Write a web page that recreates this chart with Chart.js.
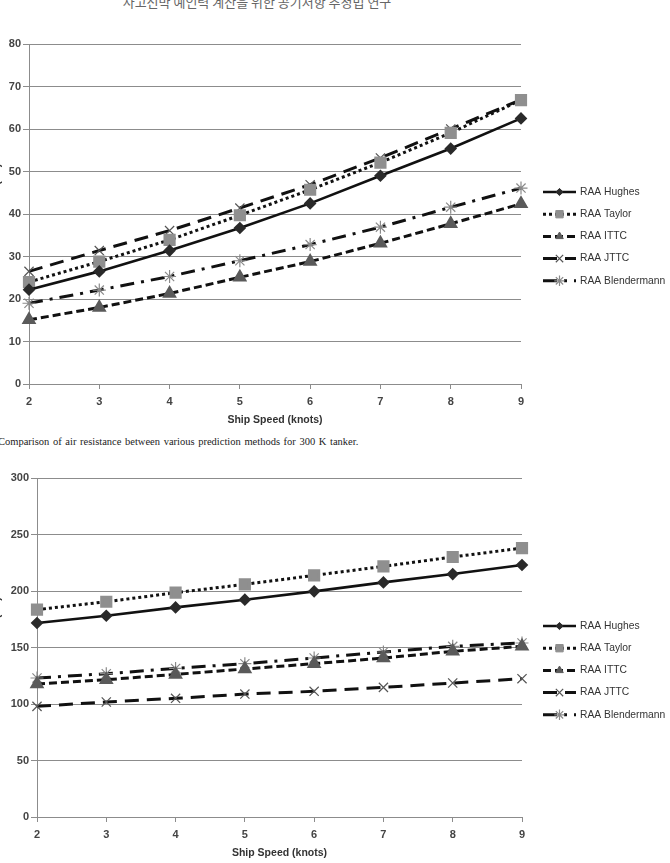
<!DOCTYPE html>
<html>
<head>
<meta charset="utf-8">
<script src="https://cdn.jsdelivr.net/npm/chart.js@4/dist/chart.umd.min.js"></script>
<style>
  body { margin: 0; background: #fff; width: 670px; height: 863px; overflow: hidden; position: relative; }
  .head { position: absolute; top: -8px; left: 0; width: 514px; text-align: center; font: 13px "Noto Sans CJK KR"; color: #666; }
  .caption { position: absolute; top: 436px; left: -2px; font: 10.5px "Liberation Serif"; color: #222; word-spacing: 1px; }
  .box { position: absolute; left: -14px; }
</style>
</head>
<body>
<div class="head">사고선박 예인력 계산을 위한 공기저항 추정법 연구</div>
<div class="box" style="top:30px;width:684px;height:400px"><canvas id="c1"></canvas></div>
<div class="caption">Comparison of air resistance between various prediction methods for 300 K tanker.</div>
<div class="box" style="top:460px;width:684px;height:403px"><canvas id="c2"></canvas></div>
<script>
const speeds = ['2', '3', '4', '5', '6', '7', '8', '9'];
const seriesNames = ['RAA Hughes', 'RAA Taylor', 'RAA ITTC', 'RAA JTTC', 'RAA Blendermann'];

// chart 1
const hughes1 = [22.2, 26.5, 31.4, 36.7, 42.5, 49.0, 55.4, 62.5];
const taylor1 = [24.0, 28.8, 33.9, 39.7, 45.7, 52.1, 59.1, 66.8];
const ittc1 = [15.1, 18.0, 21.3, 25.1, 28.8, 33.1, 37.7, 42.4];
const jttc1 = [26.5, 31.4, 36.1, 41.4, 46.9, 53.2, 60.0, 66.9];
const blend1 = [19.0, 22.1, 25.3, 29.0, 32.8, 36.9, 41.6, 46.1];

// chart 2
const hughes2 = [171.7, 178.1, 185.5, 192.3, 199.7, 207.6, 215.0, 223.0];
const taylor2 = [183.5, 190.5, 198.5, 205.9, 213.8, 221.8, 230.1, 238.0];
const ittc2 = [117.7, 121.5, 126.2, 131.0, 135.7, 140.7, 146.6, 151.0];
const jttc2 = [97.9, 101.8, 105.0, 108.8, 111.2, 114.7, 118.6, 122.4];
const blend2 = [123.0, 126.8, 131.5, 135.7, 140.7, 146.0, 151.0, 154.0];

const styles = [
  { borderDash: [], borderWidth: 2.6, pointStyle: 'rectRot', pointRadius: 4.5, pointBackgroundColor: '#2a2a2a', pointBorderColor: '#2a2a2a' },
  { borderDash: [3, 3], borderWidth: 3, pointStyle: 'rect', pointRadius: 6.5, pointBackgroundColor: '#8f8f8f', pointBorderColor: '#8f8f8f' },
  { borderDash: [8, 4], borderWidth: 3, pointStyle: 'triangle', pointRadius: 5.5, pointBackgroundColor: '#5a5a5a', pointBorderColor: '#5a5a5a' },
  { borderDash: [14, 8], borderWidth: 3, pointStyle: 'crossRot', pointRadius: 6.5, pointBackgroundColor: '#555', pointBorderColor: '#555', pointBorderWidth: 1.2 },
  { borderDash: [14, 7, 3, 7], borderWidth: 3, pointStyle: 'star', pointRadius: 6.5, pointBackgroundColor: '#8a8a8a', pointBorderColor: '#8a8a8a', pointBorderWidth: 1.2 }
];

// Excel-like legend: line sample with marker in the middle
const sideLegend = {
  id: 'sideLegend',
  afterDraw(chart, args, opts) {
    const ctx = chart.ctx;
    chart.data.datasets.forEach((ds, i) => {
      const y = opts.y + i * opts.gap;
      const x0 = opts.x;
      ctx.save();
      ctx.strokeStyle = '#111';
      ctx.lineWidth = ds.borderWidth;
      ctx.setLineDash(ds.borderDash);
      ctx.beginPath();
      ctx.moveTo(x0, y);
      ctx.lineTo(x0 + 33, y);
      ctx.stroke();
      ctx.setLineDash([]);
      ctx.fillStyle = ds.pointBackgroundColor;
      ctx.strokeStyle = ds.pointBorderColor;
      ctx.lineWidth = ds.pointBorderWidth || 1;
      Chart.helpers.drawPoint(ctx, { pointStyle: ds.pointStyle, radius: ds.pointRadius * 0.8, rotation: 0, borderWidth: ds.pointBorderWidth || 1 }, x0 + 16.5, y);
      ctx.fillStyle = '#333';
      ctx.font = '10.3px "Liberation Sans"';
      ctx.textBaseline = 'middle';
      ctx.fillText(ds.label, x0 + 37, y);
      ctx.restore();
    });
  }
};

function makeChart(id, values, yMax, yStep, axisW, padTop, padRight, legendY) {
  const datasets = values.map((v, i) => Object.assign({
    label: seriesNames[i],
    data: v,
    borderColor: '#111',
    tension: 0,
    fill: false
  }, styles[i]));

  return new Chart(document.getElementById(id), {
    type: 'line',
    data: { labels: speeds, datasets },
    plugins: [sideLegend],
    options: {
      responsive: true,
      maintainAspectRatio: false,
      animation: false,
      layout: { padding: { top: padTop, right: padRight, left: 0, bottom: 0 } },
      plugins: {
        legend: { display: false },
        tooltip: { enabled: false },
        sideLegend: { x: 557, y: legendY, gap: 22.2 }
      },
      scales: {
        x: {
          offset: false,
          afterFit: s => { s.height = 46; },
          grid: { drawOnChartArea: false, color: '#8c8c8c', tickLength: 5 },
          border: { color: '#8c8c8c' },
          ticks: { color: '#444', font: { family: 'Liberation Sans', size: 11, weight: 'bold' }, padding: 6, maxRotation: 0 },
          title: { display: true, text: 'Ship Speed (knots)', color: '#333', font: { family: 'Liberation Sans', size: 10.5, weight: 'bold' }, padding: { top: 0, bottom: 4 } }
        },
        y: {
          min: 0,
          max: yMax,
          afterFit: s => { s.width = axisW; },
          grid: { color: '#8c8c8c', tickLength: 6 },
          border: { color: '#8c8c8c' },
          ticks: { stepSize: yStep, color: '#444', font: { family: 'Liberation Sans', size: 11, weight: 'bold' }, padding: 2 },
          title: { display: true, text: 'Air Resistance (kN)', color: '#333', font: { family: 'Liberation Sans', size: 11, weight: 'bold' }, padding: { top: 4, bottom: 0 } }
        }
      }
    }
  });
}

makeChart('c1', [hughes1, taylor1, ittc1, jttc1, blend1], 80, 10, 43, 14, 149, 162);
makeChart('c2', [hughes2, taylor2, ittc2, jttc2, blend2], 300, 50, 51, 18, 148, 166);
</script>
</body>
</html>
